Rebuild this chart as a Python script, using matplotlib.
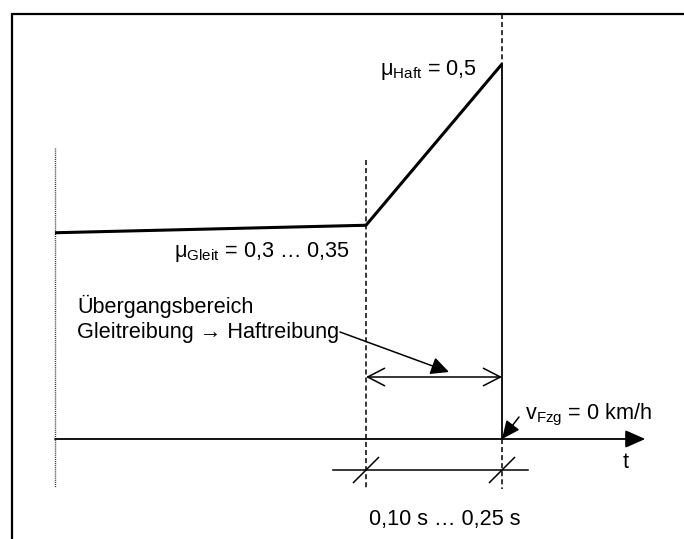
import matplotlib
matplotlib.use("Agg")
import matplotlib.pyplot as plt

# ---------------- data (schematic) ----------------
t_points = [0.0, 0.343, 0.493]      # s: start, end of sliding phase, standstill
mu_points = [0.275, 0.285, 0.50]    # friction coefficient along the curve
t_axis_end = 0.651                  # end of the time axis arrow

label_haft = "μ$_{\\mathrm{Haft}}$ = 0,5"
label_gleit = "μ$_{\\mathrm{Gleit}}$ = 0,3 … 0,35"
label_trans = ["Übergangsbereich", "Gleitreibung → Haftreibung"]
label_v = "v$_{\\mathrm{Fzg}}$ = 0 km/h"
label_t = "t"
label_dt = "0,10 s … 0,25 s"

# ---------------- style ----------------
plt.rcParams["font.family"] = ["Liberation Sans", "DejaVu Sans"]
plt.rcParams["mathtext.fontset"] = "custom"
plt.rcParams["mathtext.rm"] = "Liberation Sans"
plt.rcParams["mathtext.it"] = "Liberation Sans:italic"
plt.rcParams["mathtext.bf"] = "Liberation Sans:bold"
plt.rcParams["lines.scale_dashes"] = False
FS = 15.6

W, H = 684, 539
fig = plt.figure(figsize=(W / 100, H / 100), dpi=100)
ax = fig.add_axes([0, 0, 1, 1])
ax.set_axis_off()

# layout scale: reference pixel <-> data
X0, KX = 55.0, 906.7   # t = 0 at x px, px per second
Y0, KY = 439.0, 750.0  # mu = 0 at y px, px per unit mu


def tx(x):
    return (x - X0) / KX


def my(y):
    return (Y0 - y) / KY


def P(x, y):
    return (tx(x), my(y))


ax.set_xlim(tx(0), tx(W))
ax.set_ylim(my(H), my(0))

k = "black"
dash = (0, (3.6, 2.2))

# frame (left + top)
ax.plot([tx(12), tx(12), tx(W)], [my(H), my(14), my(14)], color=k, lw=1.6,
        solid_joinstyle="miter")

# friction curve
ax.plot(t_points, mu_points, color=k, lw=2.2, solid_joinstyle="miter",
        solid_capstyle="butt", zorder=5)

t0, t1, t2 = t_points

# dotted start line
ax.plot([t0, t0], [my(148), my(487)], color="#333333", lw=1.0,
        linestyle=(0, (0.75, 0.75)))

# dashed lines
ax.plot([t1, t1], [my(160), my(489)], color=k, lw=1.1, linestyle=dash)
ax.plot([t2, t2], [my(14), mu_points[2]], color=k, lw=1.1, linestyle=dash)
ax.plot([t2, t2], [0, my(489)], color=k, lw=1.1, linestyle=dash)
# solid line at standstill
ax.plot([t2, t2], [mu_points[2], 0], color=k, lw=1.3)

# time axis
ax.annotate("", xy=(t_axis_end, 0), xytext=(t0, 0),
            arrowprops=dict(arrowstyle="-|>,head_length=12.2,head_width=5.4",
                            mutation_scale=1, shrinkA=0, shrinkB=0,
                            lw=1.3, color=k))

# lower dimension line with slashes
ydim = my(470)
ax.plot([tx(333), tx(528)], [ydim, ydim], color=k, lw=1.1)
for tt in (t1, t2):
    ax.plot([tt - 12.5 / KX, tt + 12.5 / KX], [ydim - 12.5 / KY, ydim + 12.5 / KY],
            color=k, lw=1.1)

# upper dimension line with open arrowheads
yup = my(377)
ax.annotate("", xy=(t2, yup), xytext=(t1, yup),
            arrowprops=dict(arrowstyle="<->,head_length=12.2,head_width=6.3",
                            mutation_scale=1, shrinkA=0, shrinkB=0,
                            lw=1.1, color=k))

# leader arrow from the transition label
ax.annotate("", xy=P(449, 372), xytext=P(340, 332),
            arrowprops=dict(arrowstyle="-|>,head_length=11,head_width=5.4",
                            mutation_scale=1, shrinkA=0, shrinkB=0,
                            lw=1.1, color=k))

# v = 0 arrow
ax.annotate("", xy=(t2, 0), xytext=P(519, 417),
            arrowprops=dict(arrowstyle="-|>,head_length=11,head_width=5.0",
                            mutation_scale=1, shrinkA=0, shrinkB=0,
                            lw=1.1, color=k))

# texts
ax.text(tx(477), my(75), label_haft, fontsize=FS, ha="right", va="baseline")
ax.text(tx(350), my(257), label_gleit, fontsize=FS, ha="right", va="baseline")
ax.text(tx(77), my(313), label_trans[0], fontsize=FS, ha="left", va="baseline")
ax.text(tx(77), my(338), label_trans[1], fontsize=FS, ha="left", va="baseline")
ax.text(tx(525), my(419), label_v, fontsize=FS, ha="left", va="baseline")
ax.text(tx(623), my(468), label_t, fontsize=FS, ha="left", va="baseline")
ax.text(tx(369), my(525), label_dt, fontsize=FS, ha="left", va="baseline")

fig.savefig("out.png", dpi=100, facecolor="white")
